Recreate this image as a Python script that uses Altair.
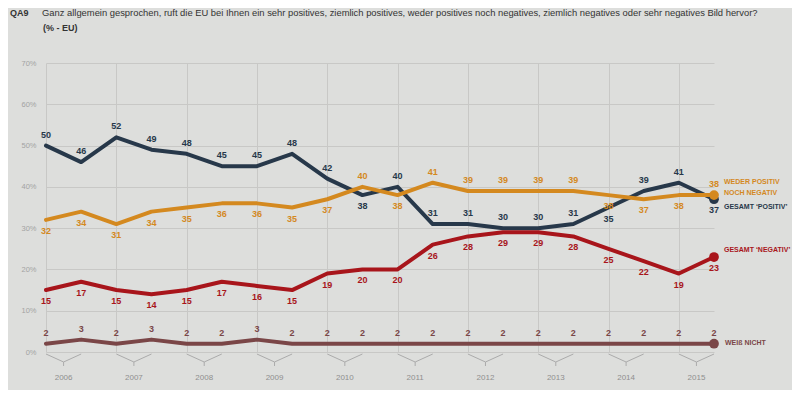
import altair as alt
import pandas as pd

# ---- data ----
periods = list(range(20))  # two survey waves per year, 2006-2015
years = ["2006", "2007", "2008", "2009", "2010", "2011", "2012", "2013", "2014", "2015"]

positiv = [50, 46, 52, 49, 48, 45, 45, 48, 42, 38, 40, 31, 31, 30, 30, 31, 35, 39, 41, 37]
neutral = [32, 34, 31, 34, 35, 36, 36, 35, 37, 40, 38, 41, 39, 39, 39, 39, 38, 37, 38, 38]
negativ = [15, 17, 15, 14, 15, 17, 16, 15, 19, 20, 20, 26, 28, 29, 29, 28, 25, 22, 19, 23]
weiss_nicht = [2, 3, 2, 3, 2, 2, 3, 2, 2, 2, 2, 2, 2, 2, 2, 2, 2, 2, 2, 2]

# label placement relative to the line: a = above, b = below
pos_place = list("aaaaaaaaab" "aaaaaabaab")
neu_place = list("bbbbbbbbba" "baaaaabbba")
neg_place = list("bbbbbbbbbb" "bbbbbbbbbb")
wn_place = list("aaaaaaaaaa" "aaaaaaaaaa")

series_names = ["positiv", "neutral", "negativ", "weissnicht"]
series_colors = ["#27384a", "#d4891f", "#a8151b", "#7a4647"]

title_q = "QA9"
title_text = ("Ganz allgemein gesprochen, ruft die EU bei Ihnen ein sehr positives, ziemlich positives, "
              "weder positives noch negatives, ziemlich negatives oder sehr negatives Bild hervor?")
subtitle_text = "(% - EU)"

rows = []
for name, vals, places in [("positiv", positiv, pos_place), ("neutral", neutral, neu_place),
                           ("negativ", negativ, neg_place), ("weissnicht", weiss_nicht, wn_place)]:
    for i, v, p in zip(periods, vals, places):
        rows.append({"series": name, "idx": i, "value": v, "place": p})
df = pd.DataFrame(rows)

year_df = pd.DataFrame({
    "year": years,
    "xa": [2 * k for k in range(len(years))],
    "xm": [2 * k + 0.5 for k in range(len(years))],
    "xb": [2 * k + 1 for k in range(len(years))],
})

FONT = "Liberation Sans, Arial, sans-serif"
W, H = 668, 289

color = alt.Color("series:N", scale=alt.Scale(domain=series_names, range=series_colors), legend=None)
xenc = alt.X("idx:Q", scale=alt.Scale(domain=[0, 19], nice=False),
             axis=alt.Axis(values=periods, grid=True, labels=False, ticks=False, domain=False, title=None))
yenc = alt.Y("value:Q", scale=alt.Scale(domain=[0, 70], nice=False),
             axis=alt.Axis(values=[0, 10, 20, 30, 40, 50, 60, 70], labelExpr="datum.value + '%'",
                           grid=True, ticks=False, domain=False, title=None, labelPadding=10,
                           labelColor="#a3a3a3", labelFontSize=7.5, labelFont=FONT))

base = alt.Chart(df)
lines = base.mark_line(strokeWidth=4, strokeJoin="round", strokeCap="round").encode(
    x=xenc, y=yenc, color=color, detail="series:N")

last = base.transform_filter(alt.datum.idx == 19)
dots = last.mark_circle(size=95, opacity=1).encode(x="idx:Q", y="value:Q", color=color)

lab_above = base.transform_filter(alt.datum.place == "a").mark_text(
    dy=-11, font=FONT, fontSize=9, fontWeight="bold").encode(
    x="idx:Q", y="value:Q", text="value:Q", color=color)
lab_below = base.transform_filter(alt.datum.place == "b").mark_text(
    dy=11, font=FONT, fontSize=9, fontWeight="bold").encode(
    x="idx:Q", y="value:Q", text="value:Q", color=color)

def end_name(series, text, dx, dy, col):
    return last.transform_filter(alt.datum.series == series).mark_text(
        align="left", baseline="middle", dx=dx, dy=dy, font=FONT, fontSize=7,
        fontWeight="bold", color=col).encode(x="idx:Q", y="value:Q", text=alt.value(text))

names = (end_name("neutral", "WEDER POSITIV", 10, -13, series_colors[1])
         + end_name("neutral", "NOCH NEGATIV", 10, -2, series_colors[1])
         + end_name("positiv", "GESAMT \u2018POSITIV\u2019", 10, 8, series_colors[0])
         + end_name("negativ", "GESAMT \u2018NEGATIV\u2019", 10, -7, series_colors[2])
         + end_name("weissnicht", "WEIß NICHT", 11, -1, series_colors[3]))

ybase = alt.Chart(year_df)
br_left = ybase.mark_rule(color="#ababab", strokeWidth=1).encode(
    x="xa:Q", x2="xm:Q", y=alt.value(H + 2), y2=alt.value(H + 10))
br_right = ybase.mark_rule(color="#ababab", strokeWidth=1).encode(
    x="xm:Q", x2="xb:Q", y=alt.value(H + 10), y2=alt.value(H + 2))
br_stub = ybase.mark_rule(color="#ababab", strokeWidth=1).encode(
    x="xm:Q", y=alt.value(H + 10), y2=alt.value(H + 14))
year_txt = ybase.mark_text(font=FONT, fontSize=8, color="#8f8f8f").encode(
    x="xm:Q", y=alt.value(H + 26), text="year:N")

tdf = pd.DataFrame({"q": [title_q], "t": [title_text], "s": [subtitle_text]})
tbase = alt.Chart(tdf)
t_q = tbase.mark_text(align="left", font=FONT, fontSize=9, fontWeight="bold", color="#333333").encode(
    x=alt.value(-36), y=alt.value(-50), text="q:N")
t_t = tbase.mark_text(align="left", font=FONT, fontSize=9.4, color="#333333").encode(
    x=alt.value(-4), y=alt.value(-50), text="t:N")
t_s = tbase.mark_text(align="left", font=FONT, fontSize=9, fontWeight="bold", color="#333333").encode(
    x=alt.value(-3), y=alt.value(-35), text="s:N")

chart = alt.layer(
    lines, br_left, br_right, br_stub, year_txt, dots, lab_above, lab_below, names, t_q, t_t, t_s
).properties(
    width=W, height=H,
    autosize=alt.AutoSizeParams(type="none"),
    padding={"left": 38, "top": 55, "right": 78, "bottom": 38},
    background="#dddedc",
).configure_view(stroke=None).configure_axis(gridColor="#c8c8c6", gridWidth=1)

chart.save("out.html", embed_options={"renderer": "svg", "actions": False})
